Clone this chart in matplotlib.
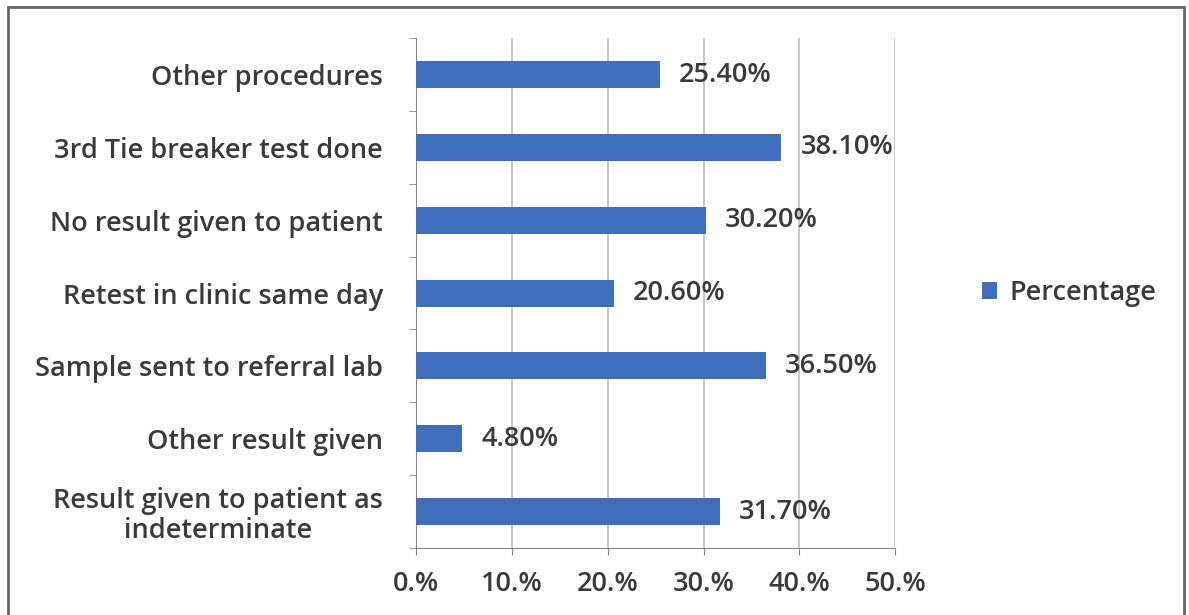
import matplotlib.pyplot as plt
import numpy as np
from matplotlib.patches import Rectangle

categories = ["Result given to patient as\nindeterminate", "Other result given",
              "Sample sent to referral lab", "Retest in clinic same day",
              "No result given to patient", "3rd Tie breaker test done",
              "Other procedures"]
values = [31.7, 4.8, 36.5, 20.6, 30.2, 38.1, 25.4]
xticks = [0, 10, 20, 30, 40, 50]
xlabels = ["0.%", "10.%", "20.%", "30.%", "40.%", "50.%"]

plt.rcParams['font.family'] = ['Open Sans', 'DejaVu Sans']
plt.rcParams['font.weight'] = 'semibold'
fs = 19.5
tc = "#3a3a3a"
fig = plt.figure(figsize=(11.89, 6.15), dpi=100)
ax = fig.add_axes([0.35, 0.109, 0.403, 0.829])

y = np.arange(len(categories))
ax.barh(y, values, height=0.37, color="#3F6FBA", label="Percentage", zorder=3)
for yi, v in zip(y, values):
    ax.text(v + 2.0, yi, "%.2f%%" % v, va="center", ha="left", fontsize=fs, color=tc, zorder=4)

ax.set_xlim(0, 50)
ax.set_ylim(-0.5, len(categories) - 0.5)
ax.set_xticks(xticks)
ax.set_xticklabels(xlabels, fontsize=fs, color=tc)
ax.xaxis.grid(True, color="#BFBFBF", linewidth=1.2, zorder=0)
ax.set_yticks(y)
ax.set_yticklabels(categories, fontsize=fs, color=tc, linespacing=1.1)
ax.set_yticks(np.arange(-0.5, len(categories)), minor=True)
ax.tick_params(axis="y", which="major", length=0, pad=24)
ax.tick_params(axis="y", which="minor", length=5, color="#888888")
ax.tick_params(axis="x", length=5, color="#888888", pad=11)
for lab in ax.get_yticklabels():
    lab.set_multialignment("center")
for s in ["top", "right"]:
    ax.spines[s].set_visible(False)
ax.spines["left"].set_color("#888888")
ax.spines["bottom"].set_color("#888888")

leg = ax.legend(loc="center left", bbox_to_anchor=(1.13, 0.5), frameon=False,
                fontsize=fs, handlelength=0.55, handleheight=0.55, handletextpad=0.45)
for t in leg.get_texts():
    t.set_color(tc)

fig.patches.append(Rectangle((0.007, -0.05), 0.989, 1.038, transform=fig.transFigure,
                             fill=False, edgecolor="#666666", linewidth=2))
fig.savefig("out.png", dpi=100)
